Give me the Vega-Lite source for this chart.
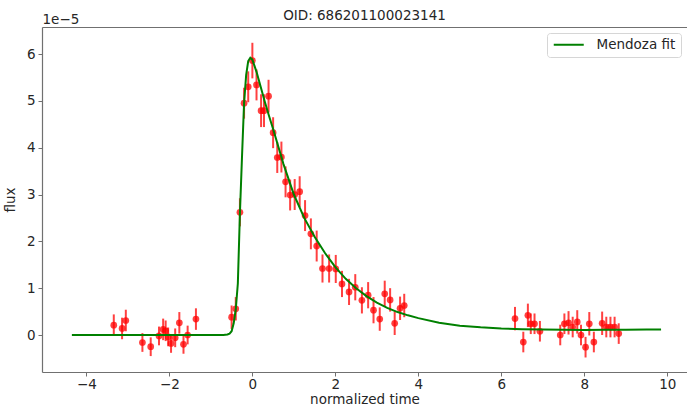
{
  "$schema": "https://vega.github.io/schema/vega-lite/v6.json",
  "width": 645,
  "height": 345,
  "autosize": {"type": "none"},
  "padding": {"left": 42, "top": 27, "right": 0, "bottom": 36},
  "background": "white",
  "title": {"text": "OID: 686201100023141", "font": "DejaVu Sans", "fontSize": 13.5, "fontWeight": "normal", "color": "#262626", "offset": -10},
  "config": {
    "view": {"stroke": null},
    "axis": {"grid": false, "labelFont": "DejaVu Sans", "labelFontSize": 13.5, "labelColor": "#262626", "titleFont": "DejaVu Sans", "titleFontSize": 13.5, "titleFontWeight": "normal", "titleColor": "#262626", "domainColor": "#707070", "tickColor": "#707070", "tickSize": 4, "labelPadding": 2, "domainWidth": 1.2}
  },
  "datasets": {
    "obs": [
      {"t": -3.34, "flux": 0.21, "err": 0.23},
      {"t": -3.14, "flux": 0.14, "err": 0.23},
      {"t": -3.05, "flux": 0.31, "err": 0.23},
      {"t": -2.65, "flux": -0.16, "err": 0.2},
      {"t": -2.45, "flux": -0.25, "err": 0.2},
      {"t": -2.25, "flux": -0.02, "err": 0.2},
      {"t": -2.15, "flux": 0.12, "err": 0.23},
      {"t": -2.09, "flux": 0.09, "err": 0.22},
      {"t": -2.03, "flux": -0.04, "err": 0.2},
      {"t": -1.96, "flux": -0.18, "err": 0.2},
      {"t": -1.86, "flux": -0.06, "err": 0.2},
      {"t": -1.76, "flux": 0.26, "err": 0.23},
      {"t": -1.66, "flux": -0.2, "err": 0.2},
      {"t": -1.56, "flux": 0.0, "err": 0.2},
      {"t": -1.36, "flux": 0.34, "err": 0.23},
      {"t": -0.5, "flux": 0.38, "err": 0.25},
      {"t": -0.4, "flux": 0.56, "err": 0.25},
      {"t": -0.3, "flux": 2.62, "err": 0.3},
      {"t": -0.2, "flux": 4.95, "err": 0.33},
      {"t": -0.1, "flux": 5.3, "err": 0.33},
      {"t": 0.0, "flux": 5.86, "err": 0.38},
      {"t": 0.1, "flux": 5.34, "err": 0.33},
      {"t": 0.21, "flux": 4.79, "err": 0.35},
      {"t": 0.28, "flux": 4.79, "err": 0.35},
      {"t": 0.39, "flux": 5.1, "err": 0.35},
      {"t": 0.5, "flux": 4.32, "err": 0.33},
      {"t": 0.6, "flux": 3.79, "err": 0.33},
      {"t": 0.7, "flux": 3.8, "err": 0.33},
      {"t": 0.8, "flux": 3.27, "err": 0.33},
      {"t": 0.91, "flux": 2.99, "err": 0.33},
      {"t": 1.02, "flux": 3.0, "err": 0.33},
      {"t": 1.14, "flux": 3.06, "err": 0.33},
      {"t": 1.27, "flux": 2.55, "err": 0.33},
      {"t": 1.41, "flux": 2.16, "err": 0.33},
      {"t": 1.55, "flux": 1.9, "err": 0.33},
      {"t": 1.69, "flux": 1.42, "err": 0.3},
      {"t": 1.85, "flux": 1.42, "err": 0.3},
      {"t": 2.01, "flux": 1.41, "err": 0.3},
      {"t": 2.16, "flux": 1.09, "err": 0.28},
      {"t": 2.33, "flux": 0.92, "err": 0.28},
      {"t": 2.48, "flux": 1.02, "err": 0.28},
      {"t": 2.64, "flux": 0.74, "err": 0.28},
      {"t": 2.79, "flux": 0.85, "err": 0.28},
      {"t": 2.92, "flux": 0.53, "err": 0.28},
      {"t": 3.07, "flux": 0.34, "err": 0.25},
      {"t": 3.19, "flux": 0.88, "err": 0.28},
      {"t": 3.32, "flux": 0.75, "err": 0.25},
      {"t": 3.43, "flux": 0.25, "err": 0.25},
      {"t": 3.56, "flux": 0.57, "err": 0.25},
      {"t": 3.66, "flux": 0.63, "err": 0.25},
      {"t": 6.33, "flux": 0.35, "err": 0.25},
      {"t": 6.53, "flux": -0.15, "err": 0.22},
      {"t": 6.64, "flux": 0.42, "err": 0.25},
      {"t": 6.71, "flux": 0.24, "err": 0.22},
      {"t": 6.8, "flux": 0.24, "err": 0.22},
      {"t": 6.93, "flux": 0.08, "err": 0.22},
      {"t": 7.42, "flux": 0.0, "err": 0.22},
      {"t": 7.52, "flux": 0.24, "err": 0.22},
      {"t": 7.62, "flux": 0.26, "err": 0.25},
      {"t": 7.72, "flux": 0.17, "err": 0.22},
      {"t": 7.83, "flux": 0.28, "err": 0.25},
      {"t": 7.92, "flux": 0.0, "err": 0.22},
      {"t": 8.03, "flux": -0.26, "err": 0.22},
      {"t": 8.12, "flux": 0.24, "err": 0.25},
      {"t": 8.23, "flux": -0.15, "err": 0.22},
      {"t": 8.43, "flux": 0.25, "err": 0.25},
      {"t": 8.53, "flux": 0.17, "err": 0.22},
      {"t": 8.63, "flux": 0.17, "err": 0.22},
      {"t": 8.73, "flux": 0.17, "err": 0.22},
      {"t": 8.83, "flux": 0.03, "err": 0.22}
    ],
    "fit": [
      {"t": -4.35, "fit": 0.0},
      {"t": -3.0, "fit": 0.0},
      {"t": -2.0, "fit": 0.0},
      {"t": -1.0, "fit": 0.0},
      {"t": -0.7, "fit": 0.0},
      {"t": -0.6, "fit": 0.01},
      {"t": -0.55, "fit": 0.03},
      {"t": -0.5, "fit": 0.08},
      {"t": -0.45, "fit": 0.25},
      {"t": -0.4, "fit": 0.55},
      {"t": -0.35, "fit": 1.1},
      {"t": -0.3, "fit": 2.6},
      {"t": -0.25, "fit": 3.8},
      {"t": -0.2, "fit": 4.95},
      {"t": -0.15, "fit": 5.55},
      {"t": -0.1, "fit": 5.85},
      {"t": -0.05, "fit": 5.92},
      {"t": 0.0, "fit": 5.88},
      {"t": 0.1, "fit": 5.62},
      {"t": 0.2, "fit": 5.3},
      {"t": 0.3, "fit": 4.98},
      {"t": 0.4, "fit": 4.68},
      {"t": 0.5, "fit": 4.4},
      {"t": 0.75, "fit": 3.65},
      {"t": 1.0, "fit": 3.0},
      {"t": 1.25, "fit": 2.5},
      {"t": 1.5, "fit": 2.1},
      {"t": 1.75, "fit": 1.75},
      {"t": 2.0, "fit": 1.45},
      {"t": 2.25, "fit": 1.2},
      {"t": 2.5, "fit": 1.0},
      {"t": 2.75, "fit": 0.83},
      {"t": 3.0, "fit": 0.69},
      {"t": 3.25, "fit": 0.58},
      {"t": 3.5, "fit": 0.49},
      {"t": 3.75, "fit": 0.42},
      {"t": 4.0, "fit": 0.36},
      {"t": 4.5, "fit": 0.26},
      {"t": 5.0, "fit": 0.2},
      {"t": 5.5, "fit": 0.165},
      {"t": 6.0, "fit": 0.14},
      {"t": 6.5, "fit": 0.125},
      {"t": 7.0, "fit": 0.115},
      {"t": 7.5, "fit": 0.11},
      {"t": 8.0, "fit": 0.108},
      {"t": 8.5, "fit": 0.11},
      {"t": 9.0, "fit": 0.113},
      {"t": 9.5, "fit": 0.117},
      {"t": 9.85, "fit": 0.12}
    ]
  },
  "resolve": {"axis": {"x": "independent", "y": "independent"}},
  "layer": [
    {
      "data": {"name": "obs"},
      "mark": {"type": "errorbar", "color": "#ff0000", "opacity": 0.75, "thickness": 2},
      "encoding": {
        "x": {"field": "t", "type": "quantitative", "scale": {"domain": [-5.07, 10.475], "nice": false, "zero": false}, "axis": null},
        "y": {"field": "flux", "type": "quantitative", "scale": {"domain": [-0.79, 6.577], "nice": false, "zero": false}, "axis": null},
        "yError": {"field": "err"}
      }
    },
    {
      "data": {"name": "obs"},
      "mark": {"type": "circle", "color": "#ff0000", "opacity": 0.75, "size": 45},
      "encoding": {
        "x": {"field": "t", "type": "quantitative", "axis": {"orient": "bottom", "title": "normalized time", "values": [-4, -2, 0, 2, 4, 6, 8, 10], "labelPadding": 1, "titlePadding": 2}},
        "y": {"field": "flux", "type": "quantitative", "axis": {"orient": "left", "title": "flux", "values": [0, 1, 2, 3, 4, 5, 6], "labelPadding": 3, "titlePadding": 9}}
      }
    },
    {
      "data": {"name": "fit"},
      "mark": {"type": "line", "strokeWidth": 2},
      "encoding": {
        "x": {"field": "t", "type": "quantitative", "axis": {"orient": "top", "labels": false, "ticks": false, "title": null}},
        "y": {"field": "fit", "type": "quantitative", "axis": {"orient": "left", "labels": false, "ticks": false, "domain": false, "title": "1e−5", "titleAngle": 0, "titleAlign": "left", "titleBaseline": "alphabetic", "titleX": 0, "titleY": -4}},
        "color": {"datum": "Mendoza fit", "type": "nominal", "scale": {"domain": ["Mendoza fit"], "range": ["#008000"]},
          "legend": {"title": null, "orient": "top-right", "offset": 6, "symbolType": "M-1,0H5", "symbolStrokeWidth": 2, "symbolSize": 100, "labelFont": "DejaVu Sans", "labelFontSize": 13.5, "labelColor": "#262626", "labelOffset": 31, "strokeColor": "#d6d6d6", "fillColor": "white", "padding": 5, "cornerRadius": 3}}
      }
    }
  ]
}
